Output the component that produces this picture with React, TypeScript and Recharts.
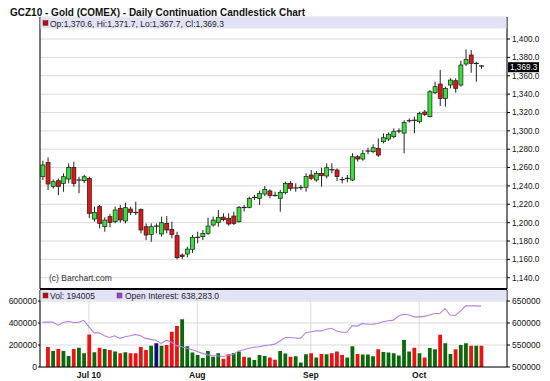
import React from "react";
import { ComposedChart, Bar, Line, XAxis, YAxis, CartesianGrid, Cell, ReferenceLine } from "recharts";

// trading days, GCZ10 daily
const dates = [
  "06/18", "06/21", "06/22", "06/23", "06/24", "06/25", "06/28", "06/29", "06/30",
  "07/01", "07/02", "07/06", "07/07", "07/08", "07/09", "07/12", "07/13", "07/14", "07/15", "07/16",
  "07/19", "07/20", "07/21", "07/22", "07/23", "07/26", "07/27", "07/28", "07/29", "07/30",
  "08/02", "08/03", "08/04", "08/05", "08/06", "08/09", "08/10", "08/11", "08/12", "08/13",
  "08/16", "08/17", "08/18", "08/19", "08/20", "08/23", "08/24", "08/25", "08/26", "08/27", "08/30", "08/31",
  "09/01", "09/02", "09/03", "09/07", "09/08", "09/09", "09/10", "09/13", "09/14", "09/15", "09/16", "09/17",
  "09/20", "09/21", "09/22", "09/23", "09/24", "09/27", "09/28", "09/29", "09/30",
  "10/01", "10/04", "10/05", "10/06", "10/07", "10/08", "10/11", "10/12", "10/13", "10/14", "10/15", "10/18", "10/19",
];

const opens = [
  1250.0, 1265.7, 1239.2, 1245.7, 1242.8, 1247.5, 1260.2, 1246.4, 1245.7, 1248.2,
  1203.9, 1217.4, 1195.6, 1206.5, 1201.0, 1215.6, 1201.8, 1214.8, 1211.0, 1214.4,
  1195.6, 1187.2, 1196.2, 1187.6, 1199.2, 1192.7, 1185.8, 1164.7, 1165.8, 1170.9,
  1184.0, 1184.7, 1188.3, 1197.4, 1200.0, 1206.0, 1204.7, 1207.2, 1201.0, 1216.5,
  1216.7, 1227.4, 1226.5, 1231.2, 1234.5, 1229.6, 1226.5, 1232.6, 1242.8, 1237.8,
  1238.2, 1238.5, 1251.9, 1246.4, 1253.7, 1250.8, 1257.6, 1257.3, 1246.9, 1248.2,
  1246.4, 1271.8, 1269.3, 1278.0, 1277.3, 1280.9, 1288.2, 1291.1, 1293.6, 1299.8,
  1297.5, 1311.0, 1311.5, 1310.0, 1320.5, 1315.4, 1341.5, 1351.0, 1335.4, 1349.9,
  1354.6, 1349.9, 1372.8, 1382.6, 1373.4, 1370.6,
];
const highs = [
  1267.5, 1271.1, 1247.0, 1248.0, 1253.7, 1264.6, 1266.4, 1250.0, 1252.0, 1250.0,
  1217.4, 1219.2, 1205.8, 1209.4, 1217.4, 1219.2, 1221.7, 1217.4, 1222.8, 1215.5,
  1199.2, 1199.2, 1199.2, 1206.5, 1207.2, 1201.0, 1190.1, 1166.5, 1173.8, 1186.5,
  1190.1, 1192.0, 1205.4, 1206.5, 1213.7, 1210.0, 1210.1, 1211.9, 1218.1, 1219.2,
  1228.3, 1230.1, 1234.8, 1239.9, 1236.3, 1233.7, 1235.5, 1244.6, 1245.3, 1242.8,
  1241.0, 1253.7, 1257.3, 1256.2, 1259.8, 1264.6, 1264.6, 1259.1, 1250.0, 1251.9,
  1275.5, 1273.6, 1279.1, 1281.6, 1285.3, 1291.8, 1297.2, 1298.3, 1302.7, 1302.7,
  1311.5, 1313.5, 1315.4, 1320.8, 1322.7, 1344.4, 1353.5, 1366.2, 1348.1, 1357.2,
  1357.2, 1376.4, 1388.7, 1388.0, 1375.3, 1371.7,
];
const lows = [
  1246.4, 1235.5, 1237.0, 1230.0, 1233.7, 1242.8, 1239.2, 1232.0, 1243.0, 1205.0,
  1201.0, 1193.8, 1190.1, 1194.9, 1199.2, 1200.0, 1199.2, 1208.3, 1208.3, 1188.3,
  1181.0, 1179.2, 1188.3, 1184.7, 1188.3, 1182.9, 1160.0, 1160.4, 1162.2, 1167.0,
  1177.4, 1181.0, 1186.5, 1195.6, 1195.6, 1201.5, 1196.7, 1197.4, 1200.0, 1212.0,
  1215.6, 1224.7, 1219.2, 1229.0, 1226.5, 1228.3, 1211.9, 1230.8, 1234.8, 1233.7,
  1235.5, 1233.7, 1246.4, 1244.6, 1239.2, 1248.2, 1253.7, 1245.3, 1242.8, 1243.9,
  1245.3, 1266.4, 1267.5, 1274.4, 1275.5, 1271.5, 1286.4, 1288.9, 1291.8, 1297.2,
  1275.5, 1309.0, 1297.3, 1308.0, 1316.1, 1314.7, 1340.1, 1327.0, 1326.3, 1346.3,
  1341.5, 1348.1, 1370.6, 1363.3, 1353.5, 1367.7,
];
const closes = [
  1262.8, 1242.1, 1244.6, 1239.2, 1250.0, 1260.2, 1242.8, 1247.0, 1250.0, 1210.1,
  1211.2, 1199.2, 1202.8, 1200.0, 1213.8, 1202.9, 1216.3, 1211.2, 1210.5, 1192.0,
  1186.5, 1195.6, 1195.6, 1199.9, 1192.0, 1187.2, 1161.8, 1163.0, 1171.2, 1184.0,
  1184.7, 1188.3, 1196.3, 1202.8, 1205.6, 1203.2, 1198.5, 1199.2, 1216.7, 1216.0,
  1226.5, 1227.8, 1231.9, 1236.3, 1229.4, 1229.1, 1233.0, 1242.8, 1237.4, 1238.1,
  1238.5, 1250.1, 1248.3, 1253.7, 1251.1, 1259.8, 1257.3, 1250.1, 1246.6, 1248.5,
  1271.8, 1269.3, 1275.1, 1278.4, 1281.6, 1273.6, 1292.5, 1296.2, 1299.1, 1300.2,
  1309.0, 1311.6, 1311.0, 1318.8, 1317.8, 1342.6, 1348.1, 1335.4, 1346.3, 1355.3,
  1346.3, 1371.7, 1377.8, 1373.5, 1373.8, 1369.3,
];

const volumes = [
  null, 182000, 146000, 164000, 146000, 101000, 164000, 176000, 125000, 295000,
  134000, 176000, 164000, 155000, 140000, 125000, 134000, 125000, 125000, 182000,
  155000, 194000, 215000, 194000, 200000, 320000, 373000, 433000, 188000, 131000,
  110000, 81000, 146000, 93000, 125000, 75000, 116000, 128000, 140000, 93000,
  87000, 63000, 110000, 101000, 87000, 66000, 146000, 122000, 93000, 98000,
  42000, 116000, 125000, 87000, 119000, 116000, 125000, 140000, 110000, 87000,
  188000, 119000, 113000, 113000, 98000, 161000, 137000, 131000, 125000, 104000,
  245000, 140000, 176000, 125000, 87000, 173000, 161000, 293000, 215000, 119000,
  161000, 200000, 215000, 194000, 194000, 194005,
];
const openInterest = [
  602000, 602000, 602000, 595000, 601000, 604000, 601000, 601500, 606000, 591000,
  577600, 577600, 571000, 567000, 571000, 565000, 568600, 571000, 574000, 571000,
  565000, 562700, 561000, 553700, 561000, 556000, 548500, 546000, 542500, 539000,
  535000, 531000, 527600, 526000, 525000, 524000, 526000, 529000, 536600, 539000,
  542500, 545000, 546000, 548500, 550000, 552000, 559000, 567000, 567000, 566000,
  565000, 578000, 580000, 582500, 582000, 586000, 588000, 582000, 579000, 579000,
  594000, 593000, 599000, 597000, 597500, 599000, 603000, 605000, 606500, 616000,
  620000, 618000, 614000, 614000, 615000, 618000, 621500, 621500, 633000, 618000,
  617000, 627000, 639000, 639000, 639000, 638283,
];

const monthLabels = ["Jul 10", "Aug", "Sep", "Oct"];
const priceTicks = [1140, 1160, 1180, 1200, 1220, 1240, 1260, 1280, 1300, 1320, 1340, 1360, 1380, 1400];
const volumeTicks = [0, 200000, 400000, 600000];
const oiTicks = [500000, 550000, 600000, 650000];

const FONT = "'Liberation Sans', Arial, sans-serif";
const X_DOMAIN: [number, number] = [-0.48, 90.02];
const GRID = "#dadada";
const BAND = "#e2e2f7";

const monthTicks = dates
  .map((d, i) => (i > 0 && d.slice(0, 2) !== dates[i - 1].slice(0, 2) ? i : -1))
  .filter((i) => i >= 0);

const data = dates.map((date, i) => {
  const prev = i > 0 ? closes[i - 1] : closes[i];
  const volColor = closes[i] > prev ? "#0a6a0a" : closes[i] < prev ? "#ee1111" : "#0c0c7a";
  return {
    i,
    date,
    open: opens[i],
    high: highs[i],
    low: lows[i],
    close: closes[i],
    range: [lows[i], highs[i]],
    vol: volumes[i],
    oi: openInterest[i],
    volColor,
  };
});

const last = data[data.length - 1];
const fmt1 = (v: number) =>
  v.toLocaleString("en-US", { minimumFractionDigits: 1, maximumFractionDigits: 1 });

function Candle(props: any) {
  const { x, y, width, height, payload } = props;
  if (x == null || !payload) return null;
  const cx = x + width / 2;
  const top = Math.min(y, y + height);
  const span = Math.abs(height);
  const { open, close, high, low } = payload;
  const toY = (p: number) => top + ((high - p) / (high - low)) * span;
  const yo = toY(open);
  const yc = toY(close);
  const bodyTop = Math.min(yo, yc);
  const bodyH = Math.abs(yo - yc);
  return (
    <g>
      <line x1={cx} x2={cx} y1={top} y2={top + span} stroke="#222" strokeWidth={1} />
      {bodyH < 1.3 ? (
        <line x1={cx - 2.5} x2={cx + 2.5} y1={yo} y2={yo} stroke="#222" strokeWidth={1.2} />
      ) : (
        <rect
          x={cx - 2}
          y={bodyTop}
          width={4}
          height={bodyH}
          fill={close > open ? "#38e038" : "#e01616"}
          stroke="#1a1a1a"
          strokeWidth={0.7}
        />
      )}
    </g>
  );
}

const PriceTag = (props: any) => {
  const vb = props.viewBox;
  if (!vb) return null;
  const px = vb.x + vb.width + 1;
  return (
    <g>
      <rect x={px} y={vb.y - 5} width={31} height={10} fill="#000" />
      <text x={px + 2} y={vb.y + 3} fontSize={8.2} fill="#fff">
        {fmt1(last.close)}
      </text>
    </g>
  );
};

const MonthTick = (props: any) => {
  const { x, y, payload } = props;
  const idx = monthTicks.indexOf(payload.value);
  return (
    <text x={x} y={y + 3} textAnchor="middle" fontSize={8.5} fontWeight="bold" fill="#111">
      {monthLabels[idx] ?? ""}
    </text>
  );
};

export default function App() {
  return (
    <div
      style={{
        position: "absolute",
        left: 0,
        top: 0,
        width: 550,
        height: 381,
        background: "#fff",
        overflow: "hidden",
        fontFamily: FONT,
      }}
    >
      <div style={{ position: "absolute", left: 0, top: 0 }}>
        <ComposedChart width={550} height={290} data={data} margin={{ top: 17, right: 0, bottom: 0, left: 0 }}>
          <CartesianGrid stroke={GRID} yAxisId="price" horizontal vertical />
          <XAxis
            dataKey="i"
            type="number"
            domain={X_DOMAIN}
            allowDataOverflow
            ticks={monthTicks}
            tick={false}
            tickLine={false}
            axisLine={{ stroke: "#000", strokeWidth: 2 }}
            height={1}
          />
          <YAxis yAxisId="frame" orientation="left" width={40} tick={false} tickLine={false} axisLine={{ stroke: "#000" }} />
          <YAxis
            yAxisId="price"
            orientation="right"
            width={43}
            domain={[1127.7, 1424]}
            allowDataOverflow
            ticks={priceTicks}
            interval={0}
            tickFormatter={fmt1}
            tick={{ fontSize: 8.2, fill: "#111" }}
            tickSize={3}
            tickMargin={2}
            tickLine={{ stroke: "#000" }}
            axisLine={{ stroke: "#000" }}
          />
          <Bar dataKey="range" yAxisId="price" barSize={4} shape={Candle} isAnimationActive={false} />
          <ReferenceLine yAxisId="price" y={last.close} stroke="none" label={PriceTag} />
        </ComposedChart>
      </div>

      <div style={{ position: "absolute", left: 0, top: 290 }}>
        <ComposedChart width={550} height={91} data={data} margin={{ top: 0, right: 0, bottom: 0, left: 0 }}>
          <CartesianGrid stroke={GRID} yAxisId="vol" horizontal vertical />
          <XAxis
            dataKey="i"
            type="number"
            domain={X_DOMAIN}
            allowDataOverflow
            ticks={monthTicks}
            interval={0}
            tick={MonthTick}
            tickLine={false}
            axisLine={{ stroke: "#000" }}
            height={14}
          />
          <YAxis
            yAxisId="vol"
            orientation="left"
            width={40}
            domain={[0, 700000]}
            ticks={volumeTicks}
            interval={0}
            tick={{ fontSize: 8.5, fill: "#111" }}
            tickSize={2}
            tickMargin={1}
            tickLine={{ stroke: "#000" }}
            axisLine={{ stroke: "#000" }}
          />
          <YAxis
            yAxisId="oi"
            orientation="right"
            width={43}
            domain={[500000, 675000]}
            ticks={oiTicks}
            interval={0}
            tick={{ fontSize: 8.5, fill: "#111" }}
            tickSize={3}
            tickMargin={2}
            tickLine={{ stroke: "#000" }}
            axisLine={{ stroke: "#000" }}
          />
          <Bar dataKey="vol" yAxisId="vol" barSize={3.8} isAnimationActive={false}>
            {data.map((d) => (
              <Cell key={d.i} fill={d.volColor} />
            ))}
          </Bar>
          <Line
            dataKey="oi"
            yAxisId="oi"
            type="linear"
            stroke="#b580e8"
            strokeWidth={1.1}
            dot={false}
            isAnimationActive={false}
          />
        </ComposedChart>
      </div>

      <svg width={550} height={381} style={{ position: "absolute", left: 0, top: 0, pointerEvents: "none" }}>
        <text x={10} y={15.5} fontSize={10} fontWeight="bold" fill="#111">
          GCZ10 - Gold (COMEX) - Daily Continuation Candlestick Chart
        </text>
        <rect x={40.5} y={17.5} width={466} height={11} fill={BAND} />
        <rect x={43} y={20.5} width={5} height={5} fill="#cc0000" stroke="#444" strokeWidth={0.5} />
        <text x={50} y={26.5} fontSize={8.5} fill="#222">
          {`Op:${fmt1(last.open)}, Hi:${fmt1(last.high)}, Lo:${fmt1(last.low)}, Cl:${fmt1(last.close)}`}
        </text>
        <text x={49} y={281} fontSize={8.5} fill="#333">
          (c) Barchart.com
        </text>
        <rect x={40.5} y={290.5} width={466} height={10} fill={BAND} />
        <rect x={43} y={293} width={5} height={5} fill="#cc0000" stroke="#444" strokeWidth={0.5} />
        <text x={50} y={299} fontSize={8.5} fill="#222">
          {`Vol: ${last.vol}`}
        </text>
        <rect x={117} y={293} width={5} height={5} fill="#9a3fd8" stroke="#444" strokeWidth={0.5} />
        <text x={125} y={299} fontSize={8.5} fill="#222">
          {`Open Interest: ${fmt1(last.oi)}`}
        </text>
      </svg>
    </div>
  );
}
